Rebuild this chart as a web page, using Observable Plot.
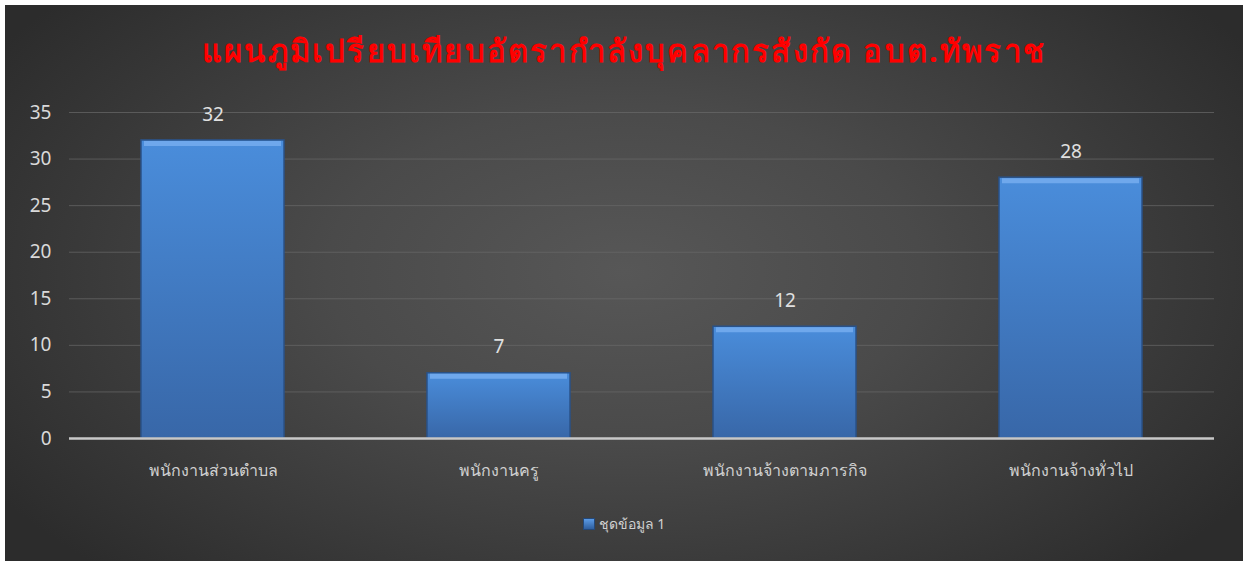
<!DOCTYPE html>
<html>
<head>
<meta charset="utf-8">
<script src="https://cdn.jsdelivr.net/npm/d3@7"></script>
<script src="https://cdn.jsdelivr.net/npm/@observablehq/plot@0.6"></script>
<style>
  html, body { margin: 0; padding: 0; background: #ffffff; }
  #frame {
    position: absolute; left: 5px; top: 5px; width: 1238px; height: 556px;
    background: radial-gradient(ellipse 60% 75% at 50% 48%, #575757 0%, #4a4a4a 40%, #2c2c2c 100%);
    overflow: hidden;
    font-family: "Noto Sans", "DejaVu Sans", sans-serif;
  }
  #title {
    height: 95px; line-height: 90px; text-align: center;
    color: #ff0000; font-weight: bold; font-size: 31px; letter-spacing: 2.2px;
  }
  #legend {
    text-align: center; padding-top: 13px; color: #d0d0d0; font-size: 14px;
  }
  #legend .sw {
    display: inline-block; width: 12px; height: 12px; vertical-align: -1px; margin-right: 4px;
    background: linear-gradient(#5b9be6, #2f5f9f); border: 1px solid #24497a; box-sizing: border-box;
  }
</style>
</head>
<body>
<div id="frame">
  <div id="title">แผนภูมิเปรียบเทียบอัตรากำลังบุคลากรสังกัด อบต.ทัพราช</div>
  <div id="chart"></div>
  <div id="legend"><span class="sw"></span>ชุดข้อมูล 1</div>
</div>
<script>
const categories = ["พนักงานส่วนตำบล", "พนักงานครู", "พนักงานจ้างตามภารกิจ", "พนักงานจ้างทั่วไป"];
const values = [32, 7, 12, 28];
const yTicks = [0, 5, 10, 15, 20, 25, 30, 35];
const seriesName = "ชุดข้อมูล 1";

const data = categories.map((c, i) => ({category: c, value: values[i]}));

const chart = Plot.plot({
  width: 1238,
  height: 400,
  marginTop: 12,
  marginBottom: 62,
  marginLeft: 64,
  marginRight: 29,
  style: {background: "transparent", fontFamily: "'Noto Sans', 'DejaVu Sans', sans-serif", overflow: "visible"},
  x: {domain: categories, paddingInner: 0.5, paddingOuter: 0.25, label: null},
  y: {domain: [0, 35], label: null},
  marks: [
    Plot.gridY(yTicks, {stroke: "#6a6a6a", strokeOpacity: 0.7, strokeWidth: 1}),
    Plot.axisY(yTicks, {tickSize: 0, tickPadding: 18, fontSize: 19, fill: "#d9d9d9", label: null}),
    Plot.axisX({tickSize: 0, tickPadding: 26, fontSize: 16, fill: "#d0d0d0", label: null}),
    Plot.barY(data, {x: "category", y: "value", fill: "url(#barGrad)", stroke: "#2a5288", strokeWidth: 1.5}),
    Plot.tickY(data, {x: "category", y: "value", stroke: "#6fa8ec", strokeWidth: 5, dy: 3, insetLeft: 3, insetRight: 3}),
    Plot.ruleY([0], {stroke: "#c8c8c8", strokeWidth: 2.5}),
    Plot.text(data, {x: "category", y: "value", text: d => String(d.value), dy: -26, fontSize: 19, fill: "#e0e0e0"})
  ]
});

const defs = d3.select(chart).insert("defs", ":first-child");
const g = defs.append("linearGradient").attr("id", "barGrad").attr("x1", 0).attr("y1", 0).attr("x2", 0).attr("y2", 1);
g.append("stop").attr("offset", "0%").attr("stop-color", "#4a8ddb");
g.append("stop").attr("offset", "100%").attr("stop-color", "#3867a8");

document.getElementById("chart").appendChild(chart);
</script>
</body>
</html>
